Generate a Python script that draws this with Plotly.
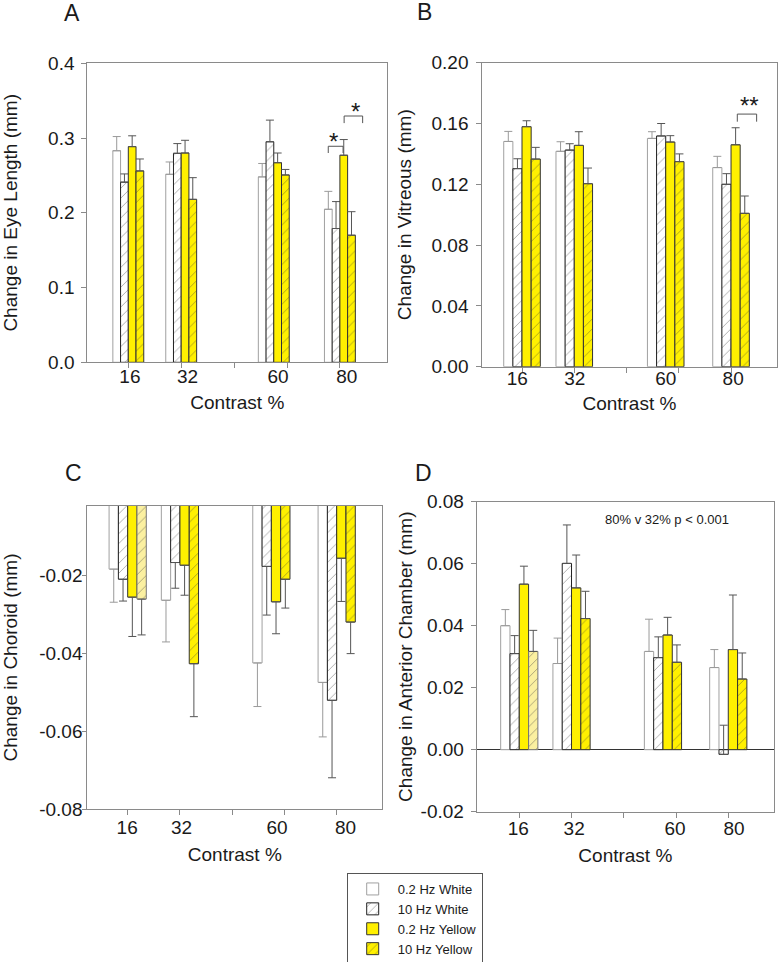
import plotly.graph_objects as go

# ---------------- data ----------------
CONTRAST = ["16", "32", "60", "80"]
SERIES = ["0.2 Hz White", "10 Hz White", "0.2 Hz Yellow", "10 Hz Yellow"]

# A: change in eye length (mm), mean and SEM
EYE_W02 = [0.283, 0.2515, 0.248, 0.2047]
EYE_W10 = [0.241, 0.2796, 0.295, 0.179]
EYE_Y02 = [0.2885, 0.280, 0.267, 0.277]
EYE_Y10 = [0.256, 0.218, 0.2506, 0.170]
EYE_W02_SEM = [0.019, 0.0165, 0.018, 0.024]
EYE_W10_SEM = [0.011, 0.013, 0.029, 0.036]
EYE_Y02_SEM = [0.0145, 0.017, 0.013, 0.021]
EYE_Y10_SEM = [0.016, 0.029, 0.0074, 0.0315]

# B: change in vitreous (mm)
VIT_W02 = [0.1482, 0.1417, 0.1502, 0.131]
VIT_W10 = [0.1303, 0.1425, 0.1518, 0.120]
VIT_Y02 = [0.1579, 0.1456, 0.1478, 0.146]
VIT_Y10 = [0.1366, 0.1204, 0.1349, 0.1009]
VIT_W02_SEM = [0.0066, 0.0063, 0.0044, 0.0074]
VIT_W10_SEM = [0.0065, 0.0042, 0.0082, 0.007]
VIT_Y02_SEM = [0.0039, 0.009, 0.0042, 0.0112]
VIT_Y10_SEM = [0.0077, 0.0103, 0.0051, 0.0114]

# C: change in choroid (mm)
CHO_W02 = [-0.0183, -0.0263, -0.0424, -0.0474]
CHO_W10 = [-0.0209, -0.0166, -0.0176, -0.052]
CHO_Y02 = [-0.0255, -0.0173, -0.0267, -0.0155]
CHO_Y10 = [-0.026, -0.0426, -0.0209, -0.0319]
CHO_W02_SEM = [0.0085, 0.0107, 0.0112, 0.014]
CHO_W10_SEM = [0.0056, 0.0066, 0.0125, 0.0199]
CHO_Y02_SEM = [0.0101, 0.0077, 0.0082, 0.0111]
CHO_Y10_SEM = [0.0092, 0.0136, 0.0074, 0.0081]

# D: change in anterior chamber (mm)
ACH_W02 = [0.040, 0.0278, 0.0317, 0.0265]
ACH_W10 = [0.031, 0.0601, 0.0297, -0.0015]
ACH_Y02 = [0.0534, 0.0522, 0.037, 0.0323]
ACH_Y10 = [0.0317, 0.0423, 0.0282, 0.0228]
ACH_W02_SEM = [0.0052, 0.0082, 0.0104, 0.0058]
ACH_W10_SEM = [0.0058, 0.0124, 0.0067, 0.0094]
ACH_Y02_SEM = [0.0058, 0.0106, 0.0057, 0.0176]
ACH_Y10_SEM = [0.0068, 0.0088, 0.0056, 0.0084]

# y tick values / labels
EYE_YTICKS = [0, 0.1, 0.2, 0.3, 0.4]
EYE_YTEXT = ["0.0", "0.1", "0.2", "0.3", "0.4"]
VIT_YTICKS = [0, 0.04, 0.08, 0.12, 0.16, 0.20]
VIT_YTEXT = ["0.00", "0.04", "0.08", "0.12", "0.16", "0.20"]
CHO_YTICKS = [-0.08, -0.06, -0.04, -0.02]
CHO_YTEXT = ["-0.08", "-0.06", "-0.04", "-0.02"]
ACH_YTICKS = [-0.02, 0, 0.02, 0.04, 0.06, 0.08]
ACH_YTEXT = ["-0.02", "0.00", "0.02", "0.04", "0.06", "0.08"]

# significance brackets (data coords) and marks
A_BRACKET1_X = [3.78, 3.78, 4.06, 4.06]
A_BRACKET1_Y = [0.280, 0.289, 0.289, 0.280]
A_BRACKET2_X = [4.08, 4.08, 4.43, 4.43]
A_BRACKET2_Y = [0.320, 0.3295, 0.3295, 0.320]
B_BRACKET_X = [4.12, 4.12, 4.49, 4.49]
B_BRACKET_Y = [0.1612, 0.1662, 0.1662, 0.1612]

# ---------------- layout constants ----------------
W, H = 778, 962
GROUP_X = [0, 1, 2.75, 4]
TICK_SLOTS = [0, 1, 2, 3, 4]
FONT = "Liberation Sans, Arial, sans-serif"
AXC = "#8a8a8a"
TXT = "#1a1a1a"
YEL = "#fff000"
PALE = "#fbf0a0"


def fx(p):
    return p / W


def fy(p):
    return 1 - p / H


panels = [
    dict(n="", vals=[EYE_W02, EYE_W10, EYE_Y02, EYE_Y10],
         sems=[EYE_W02_SEM, EYE_W10_SEM, EYE_Y02_SEM, EYE_Y10_SEM], sign=1,
         xd=[87.3, 387.3], yd=[63.3, 362.3], xr=[-0.775, 4.896], bw=0.146,
         yr=[0, 0.4], yt=EYE_YTICKS, ytx=EYE_YTEXT, ylso=3, ytl=5,
         lab=[0.03, 1.12, 2.83, 4.13], title="Change in Eye Length (mm)",
         ystand=30, xstand=9, xlso=-3, pale=False, zl=False),
    dict(n="2", vals=[VIT_W02, VIT_W10, VIT_Y02, VIT_Y10],
         sems=[VIT_W02_SEM, VIT_W10_SEM, VIT_Y02_SEM, VIT_Y10_SEM], sign=1,
         xd=[482.3, 776.5], yd=[62.7, 366.7], xr=[-0.76, 4.87], bw=0.175,
         yr=[0, 0.2], yt=VIT_YTICKS, ytx=VIT_YTEXT, ylso=4, ytl=5,
         lab=[-0.09, 1.01, 2.75, 4.04], title="Change in Vitreous (mm)",
         ystand=14, xstand=9, xlso=-6, pale=False, zl=False),
    dict(n="3", vals=[CHO_W02, CHO_W10, CHO_Y02, CHO_Y10],
         sems=[CHO_W02_SEM, CHO_W10_SEM, CHO_Y02_SEM, CHO_Y10_SEM], sign=-1,
         xd=[87.3, 382.3], yd=[505.7, 809.3], xr=[-0.773, 4.873], bw=0.178,
         yr=[-0.08, -0.002], yt=CHO_YTICKS, ytx=CHO_YTEXT, ylso=-4, ytl=4,
         lab=[-0.01, 1.03, 2.86, 4.17], title="Change in Choroid (mm)",
         ystand=18, xstand=10, xlso=1, pale=True, zl=False),
    dict(n="4", vals=[ACH_W02, ACH_W10, ACH_Y02, ACH_Y10],
         sems=[ACH_W02_SEM, ACH_W10_SEM, ACH_Y02_SEM, ACH_Y10_SEM], sign=1,
         xd=[476.7, 774], yd=[501.7, 811.7], xr=[-0.815, 4.875], bw=0.178,
         yr=[-0.02, 0.08], yt=ACH_YTICKS, ytx=ACH_YTEXT, ylso=3, ytl=5,
         lab=[-0.02, 1.05, 2.98, 4.11], title="Change in Anterior Chamber (mm)",
         ystand=2, xstand=11, xlso=-1, pale=True, zl=True),
]

styles = [
    dict(color="white", line="#a0a0a0", pattern=None, ecol="#9a9a9a"),
    dict(color="white", line="#222222", pattern="/", ecol="#555555"),
    dict(color=YEL, line="#333333", pattern=None, ecol="#555555"),
    dict(color=YEL, line="#333333", pattern="/", ecol="#555555"),
]

fig = go.Figure()

for pi, p in enumerate(panels):
    xa, ya = "x" + p["n"], "y" + p["n"]
    bw = p["bw"]
    for si, (name, st) in enumerate(zip(SERIES, styles)):
        vals = p["vals"][si]
        sems = p["sems"][si]
        zeros = [0] * len(vals)
        if p["sign"] > 0:
            plus, minus = sems, zeros
        else:
            plus, minus = zeros, sems
        colors = [st["color"]] * len(vals)
        lines = [st["line"]] * len(vals)
        if p["pale"] and si == 3:
            colors[0] = PALE
            lines[0] = "#777777"
        marker = dict(color=colors, line=dict(color=lines, width=1))
        if st["pattern"]:
            marker["pattern"] = dict(shape=st["pattern"], fgcolor="#222222",
                                     size=7, solidity=0.12)
        fig.add_trace(go.Bar(
            x=GROUP_X, y=vals, name=name, width=bw, offset=-2 * bw + si * bw,
            marker=marker, xaxis=xa, yaxis=ya, legendgroup=name,
            showlegend=(pi == 0), hoverinfo="skip",
            error_y=dict(type="data", symmetric=False, array=plus,
                         arrayminus=minus, color=st["ecol"], thickness=1,
                         width=4),
            customdata=CONTRAST,
        ))

    ax = dict(
        domain=[fx(p["xd"][0]), fx(p["xd"][1])], range=p["xr"], anchor=ya,
        automargin=False,
        showline=True, mirror=True, linecolor=AXC, linewidth=1,
        showgrid=False, zeroline=False,
        tickmode="array", tickvals=p["lab"], ticktext=CONTRAST, ticks="",
        ticklabelstandoff=p["xlso"],
        minor=dict(tickmode="array", tickvals=TICK_SLOTS, ticks="outside",
                   ticklen=5, tickwidth=1, tickcolor=AXC, showgrid=False),
        tickfont=dict(size=19, color=TXT, family=FONT),
        title=dict(text="Contrast %", standoff=p["xstand"],
                   font=dict(size=19, color=TXT, family=FONT)),
    )
    ay = dict(
        domain=[fy(p["yd"][1]), fy(p["yd"][0])], range=p["yr"], anchor=xa,
        automargin=False,
        showline=True, mirror=True, linecolor=AXC, linewidth=1,
        showgrid=False, zeroline=p["zl"], zerolinecolor="#333333",
        zerolinewidth=1,
        tickmode="array", tickvals=p["yt"], ticktext=p["ytx"],
        ticks="outside", ticklen=p["ytl"], tickwidth=1, tickcolor=AXC,
        ticklabelstandoff=p["ylso"],
        tickfont=dict(size=19, color=TXT, family=FONT),
        title=dict(text=p["title"], standoff=p["ystand"],
                   font=dict(size=19, color=TXT, family=FONT)),
    )
    fig.update_layout(**{"xaxis" + p["n"]: ax, "yaxis" + p["n"]: ay})

# significance brackets
for bx, by, xa, ya in [(A_BRACKET1_X, A_BRACKET1_Y, "x", "y"),
                       (A_BRACKET2_X, A_BRACKET2_Y, "x", "y"),
                       (B_BRACKET_X, B_BRACKET_Y, "x2", "y2")]:
    fig.add_trace(go.Scatter(x=bx, y=by, mode="lines", xaxis=xa, yaxis=ya,
                             line=dict(color="#555555", width=1),
                             showlegend=False, hoverinfo="skip"))

annos = []
for txt, x, y, xr, yr, ys in [("*", 3.88, 0.300, "x", "y", -3),
                              ("*", 4.30, 0.340, "x", "y", -3),
                              ("**", 4.35, 0.1728, "x2", "y2", -1)]:
    annos.append(dict(text=txt, x=x, y=y, xref=xr, yref=yr, showarrow=False,
                      yshift=ys, font=dict(size=24, color=TXT, family=FONT)))

annos.append(dict(text="80% v 32% p < 0.001", x=2.82, y=0.0744, xref="x4",
                  yref="y4", showarrow=False,
                  font=dict(size=13, color=TXT, family=FONT)))

for letter, px, py in [("A", 72, 13), ("B", 424.7, 12),
                       ("C", 73.3, 472.5), ("D", 424, 472.5)]:
    annos.append(dict(text=letter, x=fx(px), y=fy(py), xref="paper",
                      yref="paper", showarrow=False, xanchor="center",
                      yanchor="middle",
                      font=dict(size=23, color=TXT, family=FONT)))

fig.update_layout(
    width=W, height=H, margin=dict(l=0, r=0, t=0, b=0, autoexpand=False),
    paper_bgcolor="white", plot_bgcolor="white",
    barmode="overlay", annotations=annos,
    font=dict(family=FONT, color=TXT),
    legend=dict(x=fx(346.7), y=fy(873), xanchor="left", yanchor="top",
                bordercolor="#555555", borderwidth=1, bgcolor="white",
                font=dict(size=13, color=TXT, family=FONT),
                tracegroupgap=0, itemwidth=40, traceorder="normal"),
)

fig.write_html("out.html", config={"displayModeBar": False},
               post_script="document.body.style.margin='0px';")
